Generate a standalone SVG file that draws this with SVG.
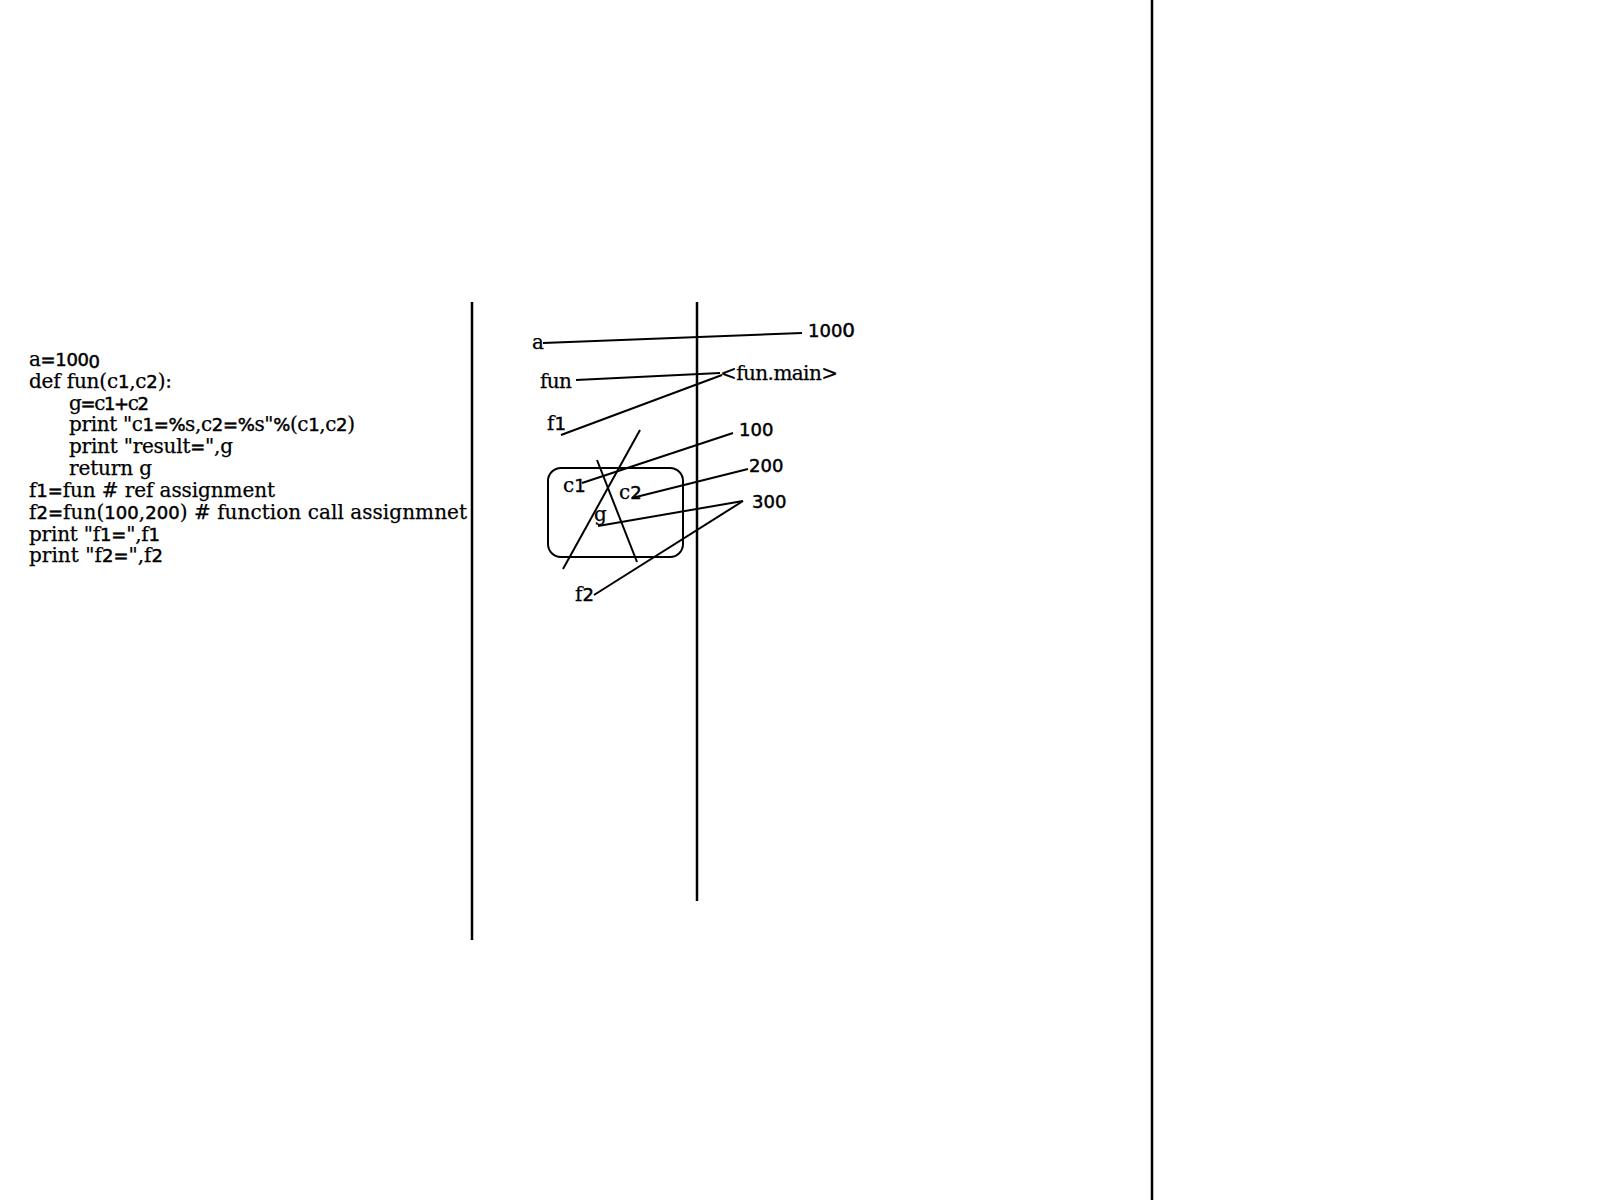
<svg xmlns="http://www.w3.org/2000/svg" width="1600" height="1200" viewBox="0 0 1600 1200">
<style>
.bg{fill:#fff}
.s{font-family:"DejaVu Serif","Liberation Serif",serif;font-size:20px;fill:#000;stroke:#000;stroke-width:0.25}
.n{font-family:"DejaVu Sans","Liberation Sans",sans-serif;font-size:18px;fill:#000;stroke:#000;stroke-width:0.5}
.c line,.c rect{stroke:#000;stroke-width:2;fill:none}
.d{stroke:#000;stroke-width:2.5}
</style>
<rect class="bg" x="0" y="0" width="1600" height="1200"/>
<g id="dividers">
<line class="d" x1="1152" y1="0" x2="1152" y2="1200"/>
<line class="d" x1="472" y1="302" x2="472" y2="940"/>
<line class="d" x1="697" y1="302" x2="697" y2="901"/>
</g>
<g id="code">
<text class="s" x="29" y="366" textLength="71"><tspan>a</tspan><tspan class="n">=100</tspan><tspan class="n" font-size="20" dy="2">0</tspan></text>
<text class="s" x="29" y="388" textLength="143">def fun(c<tspan class="n">1</tspan>,c<tspan class="n">2</tspan>):</text>
<text class="s" x="69" y="410" textLength="80">g<tspan class="n">=</tspan>c<tspan class="n">1+</tspan>c<tspan class="n">2</tspan></text>
<text class="s" x="69" y="431" textLength="286">print "c<tspan class="n">1=%</tspan>s,c<tspan class="n">2=%</tspan>s"<tspan class="n">%</tspan>(c<tspan class="n">1</tspan>,c<tspan class="n">2</tspan>)</text>
<text class="s" x="69" y="453" textLength="164">print "result<tspan class="n">=</tspan>",g</text>
<text class="s" x="69" y="475" textLength="83">return g</text>
<text class="s" x="29" y="497" textLength="246">f<tspan class="n">1=</tspan>fun # ref assignment</text>
<text class="s" x="29" y="519" textLength="438">f<tspan class="n">2=</tspan>fun(<tspan class="n">100</tspan>,<tspan class="n">200</tspan>) # function call assignmnet</text>
<text class="s" x="29" y="541" textLength="131">print "f<tspan class="n">1=</tspan>",f<tspan class="n">1</tspan></text>
<text class="s" x="29" y="562" textLength="134">print "f<tspan class="n">2=</tspan>",f<tspan class="n">2</tspan></text>
</g>
<g id="connectors" class="c">
<line x1="543" y1="343" x2="802" y2="333"/>
<line x1="576" y1="380" x2="720" y2="373"/>
<line x1="561" y1="435" x2="722" y2="375"/>
<line x1="640" y1="430" x2="563" y2="569"/>
<line x1="597" y1="460" x2="637" y2="562"/>
<line x1="582" y1="483" x2="733" y2="433"/>
<line x1="632" y1="498" x2="748" y2="469"/>
<line x1="598" y1="526" x2="743" y2="501"/>
<line x1="594" y1="595" x2="743" y2="501"/>
<rect x="548" y="468" width="135" height="89" rx="13" ry="13"/>
</g>
<g id="var-a"><text class="s" x="532" y="349">a</text></g>
<g id="var-fun"><text class="s" x="540" y="388" textLength="32">fun</text></g>
<g id="var-f1"><text class="s" x="547" y="430">f<tspan class="n">1</tspan></text></g>
<g id="var-c1"><text class="s" x="563" y="492">c<tspan class="n">1</tspan></text></g>
<g id="var-c2"><text class="s" x="619" y="499">c<tspan class="n">2</tspan></text></g>
<g id="var-g"><text class="s" x="594" y="521">g</text></g>
<g id="var-f2"><text class="s" x="575" y="601">f<tspan class="n">2</tspan></text></g>
<g id="val-1000"><text class="n" x="808" y="337">100<tspan font-size="20">0</tspan></text></g>
<g id="val-funmain"><text class="s" x="720" y="380" textLength="118">&lt;fun.main&gt;</text></g>
<g id="val-100"><text class="n" x="739" y="436">100</text></g>
<g id="val-200"><text class="n" x="749" y="472">200</text></g>
<g id="val-300"><text class="n" x="752" y="508">300</text></g>
</svg>
